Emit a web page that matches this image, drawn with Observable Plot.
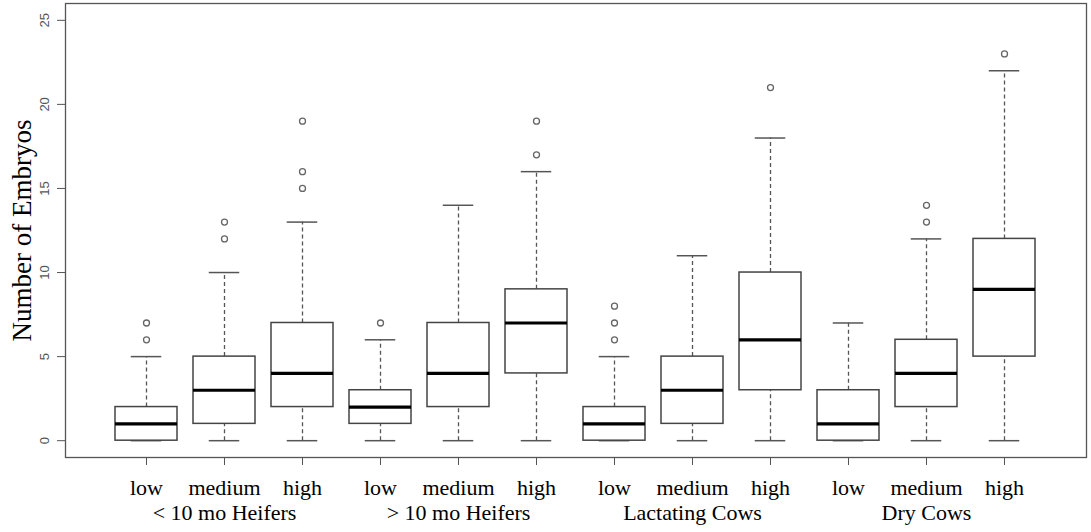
<!DOCTYPE html>
<html>
<head>
<meta charset="utf-8">
<script src="https://cdn.jsdelivr.net/npm/d3@7"></script>
<script src="https://cdn.jsdelivr.net/npm/@observablehq/plot@0.6"></script>
<style>
  html, body { margin: 0; padding: 0; background: #fff; }
  #chart svg { display: block; }
</style>
</head>
<body>
<div id="chart"></div>
<script>
// ---- data ----
const groups = ["< 10 mo Heifers", "> 10 mo Heifers", "Lactating Cows", "Dry Cows"];
const levels = ["low", "medium", "high"];
const whiskerLow  = [0, 0, 0,  0, 0, 0,  0, 0, 0,  0, 0, 0];
const q1          = [0, 1, 2,  1, 2, 4,  0, 1, 3,  0, 2, 5];
const medians     = [1, 3, 4,  2, 4, 7,  1, 3, 6,  1, 4, 9];
const q3          = [2, 5, 7,  3, 7, 9,  2, 5, 10, 3, 6, 12];
const whiskerHigh = [5, 10, 13, 6, 14, 16, 5, 11, 18, 7, 12, 22];
const outliers    = [[6, 7], [12, 13], [15, 16, 19], [7], [], [17, 19], [6, 7, 8], [], [21], [], [13, 14], [23]];
const yTicks = [0, 5, 10, 15, 20, 25];
const yLabel = "Number of Embryos";

// ---- build tables ----
const keys = [];
groups.forEach(g => levels.forEach(l => keys.push(g + "|" + l)));
const boxes = keys.map((k, i) => ({
  key: k, lo: whiskerLow[i], q1: q1[i], med: medians[i], q3: q3[i], hi: whiskerHigh[i]
}));
const outs = keys.flatMap((k, i) => outliers[i].map(v => ({key: k, v})));
const groupLabels = groups.map(g => ({key: g + "|medium", label: g}));

const serif = "'Liberation Serif', 'Times New Roman', serif";
const sans = "'Liberation Sans', Arial, sans-serif";

const chart = Plot.plot({
  width: 1091,
  height: 532,
  marginLeft: 65,
  marginRight: 5,
  marginTop: 3,
  marginBottom: 75,
  style: {background: "#fff"},
  x: {type: "band", domain: keys, paddingInner: 0.2, paddingOuter: 0.58, axis: null},
  y: {domain: [-1, 26], axis: null},
  marks: [
    Plot.frame({stroke: "#555", strokeWidth: 1.3}),
    // whiskers
    Plot.ruleX(boxes, {x: "key", y1: "q3", y2: "hi", stroke: "#555", strokeWidth: 1.3, strokeDasharray: "4,3"}),
    Plot.ruleX(boxes, {x: "key", y1: "lo", y2: "q1", stroke: "#555", strokeWidth: 1.3, strokeDasharray: "4,3"}),
    // caps
    Plot.tickY(boxes, {x: "key", y: "hi", stroke: "#555", strokeWidth: 1.5, insetLeft: 15.75, insetRight: 15.75}),
    Plot.tickY(boxes, {x: "key", y: "lo", stroke: "#555", strokeWidth: 1.5, insetLeft: 15.75, insetRight: 15.75}),
    // boxes
    Plot.barY(boxes, {x: "key", y1: "q1", y2: "q3", fill: "white", stroke: "#444", strokeWidth: 1.5}),
    // medians
    Plot.tickY(boxes, {x: "key", y: "med", stroke: "#000", strokeWidth: 3.2}),
    // outliers
    Plot.dot(outs, {x: "key", y: "v", r: 3, stroke: "#666", strokeWidth: 1.3, fill: "none"}),
    // axes
    Plot.axisY({ticks: yTicks, tickSize: 8, tickRotate: -90, tickPadding: 9, fontFamily: sans, fontSize: 13, color: "#555", label: null}),
    Plot.axisX({tickSize: 8, tickPadding: 14, stroke: "#555", fill: "#000", fontFamily: serif, fontSize: 22,
      tickFormat: d => d.split("|")[1], label: null}),
    // group labels
    Plot.text(groupLabels, {x: "key", text: "label", frameAnchor: "bottom", dy: 62, fontFamily: serif, fontSize: 22, fill: "#000"}),
    // y axis title
    Plot.text([yLabel], {frameAnchor: "left", textAnchor: "middle", rotate: -90, dx: -43, fontFamily: serif, fontSize: 27, fill: "#000"})
  ]
});
document.getElementById("chart").appendChild(chart);
</script>
</body>
</html>
